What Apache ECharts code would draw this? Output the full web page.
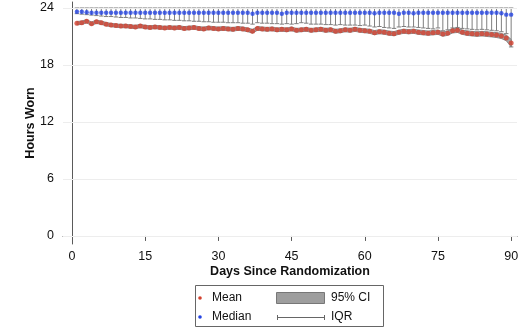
<!DOCTYPE html>
<html><head><meta charset="utf-8">
<script src="https://cdn.jsdelivr.net/npm/echarts@6/dist/echarts.min.js"></script>
<style>html,body{margin:0;padding:0;background:#fff}#c{width:522px;height:330px}</style>
</head><body><div id="c"></div>
<script>
const days = Array.from({length: 90}, (_, i) => i + 1);
const meanHours = [
 22.40,22.45,22.60,22.35,22.55,22.45,22.30,22.20,22.15,22.10,
 22.10,22.05,22.00,22.10,22.00,21.95,22.00,21.95,21.90,21.95,
 21.90,21.95,21.85,21.90,21.95,21.85,21.80,21.90,21.85,21.80,
 21.85,21.80,21.75,21.85,21.80,21.70,21.55,21.85,21.80,21.75,
 21.80,21.70,21.75,21.70,21.80,21.65,21.70,21.75,21.65,21.70,
 21.75,21.65,21.70,21.55,21.60,21.70,21.65,21.75,21.65,21.60,
 21.55,21.40,21.50,21.45,21.35,21.30,21.45,21.55,21.50,21.55,
 21.45,21.40,21.35,21.40,21.45,21.25,21.35,21.60,21.65,21.45,
 21.35,21.30,21.25,21.30,21.25,21.20,21.15,21.05,20.85,20.30];
const ciHigh = [
 22.58,22.63,22.78,22.53,22.73,22.63,22.48,22.38,22.33,22.28,
 22.28,22.23,22.18,22.28,22.18,22.13,22.18,22.13,22.08,22.13,
 22.09,22.14,22.04,22.09,22.14,22.04,21.99,22.09,22.04,21.99,
 22.05,22.00,21.95,22.05,22.00,21.90,21.75,22.05,22.00,21.95,
 22.00,21.90,21.95,21.90,22.00,21.85,21.90,21.95,21.85,21.90,
 21.96,21.86,21.91,21.76,21.81,21.91,21.86,21.96,21.86,21.81,
 21.77,21.62,21.72,21.67,21.57,21.52,21.67,21.77,21.72,21.77,
 21.68,21.63,21.58,21.63,21.68,21.48,21.58,21.83,21.88,21.68,
 21.59,21.54,21.49,21.54,21.50,21.45,21.41,21.32,21.15,20.70];
const ciLow = [
 22.22,22.27,22.42,22.17,22.37,22.27,22.12,22.02,21.97,21.92,
 21.92,21.87,21.82,21.92,21.82,21.77,21.82,21.77,21.72,21.77,
 21.71,21.76,21.66,21.71,21.76,21.66,21.61,21.71,21.66,21.61,
 21.65,21.60,21.55,21.65,21.60,21.50,21.35,21.65,21.60,21.55,
 21.60,21.50,21.55,21.50,21.60,21.45,21.50,21.55,21.45,21.50,
 21.54,21.44,21.49,21.34,21.39,21.49,21.44,21.54,21.44,21.39,
 21.33,21.18,21.28,21.23,21.13,21.08,21.23,21.33,21.28,21.33,
 21.22,21.17,21.12,21.17,21.22,21.02,21.12,21.37,21.42,21.22,
 21.11,21.06,21.01,21.06,21.00,20.95,20.89,20.78,20.55,19.90];
const medianHours = [
 23.60,23.60,23.55,23.50,23.50,23.50,23.50,23.50,23.50,23.50,
 23.50,23.50,23.50,23.50,23.50,23.50,23.50,23.50,23.50,23.50,
 23.50,23.50,23.50,23.50,23.50,23.50,23.50,23.50,23.50,23.50,
 23.50,23.50,23.50,23.50,23.50,23.50,23.40,23.50,23.50,23.50,
 23.50,23.50,23.40,23.50,23.50,23.50,23.50,23.50,23.50,23.50,
 23.50,23.50,23.50,23.50,23.50,23.50,23.50,23.50,23.50,23.50,
 23.50,23.45,23.50,23.50,23.50,23.50,23.40,23.50,23.50,23.45,
 23.50,23.50,23.50,23.50,23.50,23.50,23.50,23.50,23.50,23.50,
 23.50,23.50,23.50,23.50,23.50,23.50,23.50,23.45,23.30,23.30];
const iqrLow = [
 23.40,23.35,23.30,23.25,23.20,23.15,23.10,23.10,23.05,23.00,
 23.00,22.95,22.95,22.90,22.85,22.85,22.80,22.80,22.75,22.75,
 22.70,22.70,22.65,22.65,22.60,22.60,22.55,22.55,22.50,22.50,
 22.50,22.45,22.45,22.45,22.40,22.40,22.30,22.45,22.40,22.40,
 22.35,22.35,22.30,22.35,22.30,22.35,22.45,22.40,22.30,22.30,
 22.30,22.25,22.25,22.20,22.25,22.20,22.20,22.20,22.15,22.20,
 22.10,22.00,22.05,21.95,21.90,21.85,22.00,22.05,22.00,22.00,
 21.95,21.90,21.85,21.80,21.90,21.60,21.70,21.90,21.95,21.85,
 21.80,21.75,21.70,21.75,21.70,21.65,21.60,21.50,21.30,19.90];
const iqrHigh = [
 24,24,24,24,24,24,24,24,24,24, 24,24,24,24,24,24,24,24,24,24,
 24,24,24,24,24,24,24,24,24,24, 24,24,24,24,24,24,24,24,24,24,
 24,24,24,24,24,24,24,24,24,24, 24,24,24,24,24,24,24,24,24,24,
 24,24,24,24,24,24,24,24,24,24, 24,24,24,24,24,24,24,24,24,24,
 24,24,24,24,24,24,24,24,24,24];
const xTicks = [0, 15, 30, 45, 60, 75, 90];
const yTicks = [0, 6, 12, 18, 24];

const FONT = '"Liberation Sans", Arial, sans-serif';
const AX = '#5a5a5a';
const chart = echarts.init(document.getElementById('c'), null, {renderer: 'canvas'});

const option = {
  animation: false,
  backgroundColor: '#fff',
  grid: {left: 63, right: 5, top: 2, bottom: 86},
  xAxis: {
    type: 'value', min: -1.85, max: 91.2,
    axisLine: {show: true, lineStyle: {color: AX, width: 1}},
    axisTick: {show: true, customValues: xTicks, length: 5, lineStyle: {color: AX}},
    axisLabel: {customValues: xTicks, color: '#111', fontSize: 12.5, fontFamily: FONT, margin: 6},
    splitLine: {show: false},
    name: 'Days Since Randomization', nameLocation: 'middle', nameGap: 21, nameMoveOverlap: false,
    nameTextStyle: {fontWeight: 'bold', fontSize: 12.5, color: '#111', fontFamily: FONT}
  },
  yAxis: {
    type: 'value', min: -0.85, max: 24.63,
    axisLine: {show: true, lineStyle: {color: AX, width: 1}},
    axisTick: {show: true, customValues: yTicks, length: 5, lineStyle: {color: AX}},
    axisLabel: {customValues: yTicks, color: '#111', fontSize: 12.5, fontFamily: FONT, margin: 9},
    splitLine: {show: false},
    name: 'Hours Worn', nameLocation: 'middle', nameGap: 26, nameRotate: 90, nameMoveOverlap: false,
    nameTextStyle: {fontWeight: 'bold', fontSize: 12.5, color: '#111', fontFamily: FONT}
  },
  series: [
    {
      type: 'line', data: [], silent: true,
      markLine: {
        silent: true, symbol: 'none', label: {show: false},
        lineStyle: {color: '#ededed', type: 'solid', width: 1},
        data: yTicks.map(v => ({yAxis: v}))
      }
    },
    {
      type: 'custom', z: 2,
      data: days.map((d, i) => [d, iqrLow[i], iqrHigh[i]]),
      encode: {x: 0, y: [1, 2]},
      renderItem: function (params, api) {
        const lo = api.coord([api.value(0), api.value(1)]);
        const hi = api.coord([api.value(0), api.value(2)]);
        const w = 2.2;
        const st = {stroke: '#7f7f7f', lineWidth: 1};
        return {type: 'group', children: [
          {type: 'line', shape: {x1: lo[0], y1: lo[1], x2: hi[0], y2: hi[1]}, style: st},
          {type: 'line', shape: {x1: lo[0] - w, y1: lo[1], x2: lo[0] + w, y2: lo[1]}, style: st},
          {type: 'line', shape: {x1: hi[0] - w, y1: hi[1], x2: hi[0] + w, y2: hi[1]}, style: st}
        ]};
      }
    },
    {
      type: 'custom', z: 3, clip: false,
      data: [[45, 22]],
      encode: {x: 0, y: 1},
      renderItem: function (params, api) {
        const pts = [];
        for (let i = 0; i < days.length; i++) pts.push(api.coord([days[i], ciHigh[i]]));
        for (let i = days.length - 1; i >= 0; i--) pts.push(api.coord([days[i], ciLow[i]]));
        return {type: 'polygon', shape: {points: pts},
          style: {fill: '#a8a8a8', stroke: '#7a7a7a', lineWidth: 0.8}};
      }
    },
    {
      type: 'scatter', z: 4,
      data: days.map((d, i) => [d, meanHours[i]]),
      symbol: 'circle', symbolSize: 5,
      itemStyle: {color: '#d2402e'}
    },
    {
      type: 'scatter', z: 4,
      data: days.map((d, i) => [d, medianHours[i]]),
      symbol: 'circle', symbolSize: 4.4,
      itemStyle: {color: '#2443e2'}
    }
  ],
  graphic: [
    {type: 'rect', shape: {x: 195.5, y: 285.5, width: 188, height: 41},
      style: {fill: '#fff', stroke: '#666', lineWidth: 1}},
    {type: 'circle', shape: {cx: 200, cy: 298, r: 1.8}, style: {fill: '#d2402e'}},
    {type: 'text', x: 212, y: 298, style: {text: 'Mean', fill: '#111', fontSize: 12, fontFamily: FONT, verticalAlign: 'middle'}},
    {type: 'circle', shape: {cx: 200, cy: 317, r: 1.8}, style: {fill: '#2443e2'}},
    {type: 'text', x: 212, y: 317, style: {text: 'Median', fill: '#111', fontSize: 12, fontFamily: FONT, verticalAlign: 'middle'}},
    {type: 'rect', shape: {x: 276.5, y: 292.5, width: 48, height: 11},
      style: {fill: '#9e9e9e', stroke: '#777', lineWidth: 1}},
    {type: 'text', x: 331, y: 298, style: {text: '95% CI', fill: '#111', fontSize: 12, fontFamily: FONT, verticalAlign: 'middle'}},
    {type: 'line', shape: {x1: 277, y1: 317.5, x2: 325, y2: 317.5}, style: {stroke: '#666', lineWidth: 1}},
    {type: 'line', shape: {x1: 277.5, y1: 315, x2: 277.5, y2: 320}, style: {stroke: '#666', lineWidth: 1}},
    {type: 'line', shape: {x1: 324.5, y1: 315, x2: 324.5, y2: 320}, style: {stroke: '#666', lineWidth: 1}},
    {type: 'text', x: 331, y: 317, style: {text: 'IQR', fill: '#111', fontSize: 12, fontFamily: FONT, verticalAlign: 'middle'}}
  ]
};
chart.setOption(option);
</script>
</body></html>
